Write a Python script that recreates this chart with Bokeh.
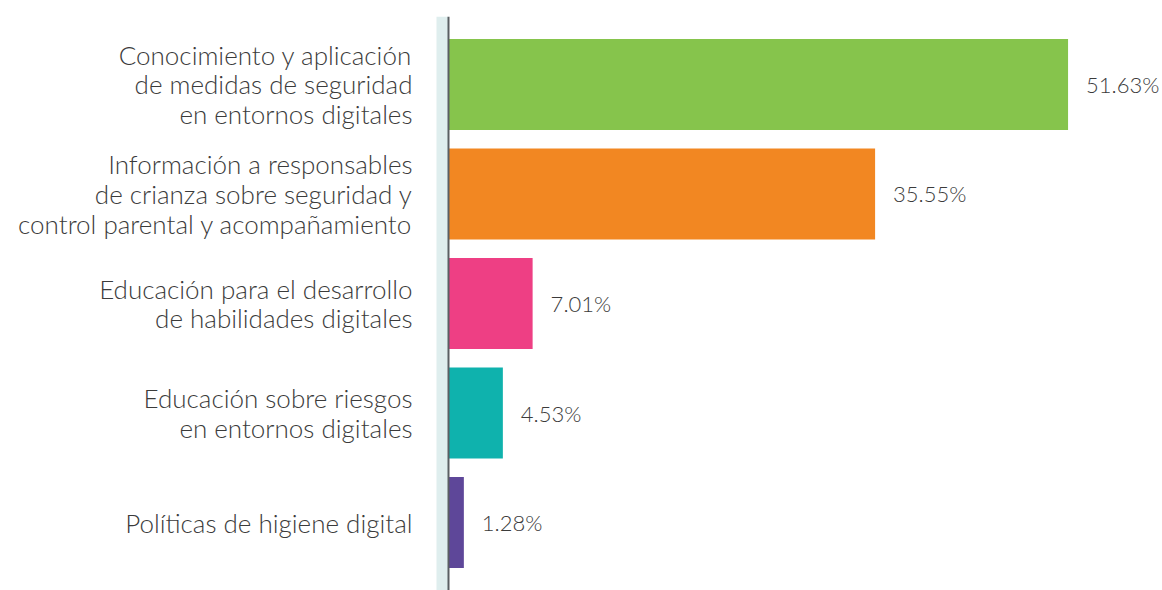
from bokeh.plotting import figure
from bokeh.models import ColumnDataSource, Span, BoxAnnotation, Range1d, FactorRange
from bokeh.core.properties import value
from bokeh.embed import file_html
from bokeh.resources import INLINE

categories = [
    "Conocimiento y aplicación\nde medidas de seguridad\nen entornos digitales",
    "Información a responsables\nde crianza sobre seguridad y\ncontrol parental y acompañamiento",
    "Educación para el desarrollo\nde habilidades digitales",
    "Educación sobre riesgos\nen entornos digitales",
    "Políticas de higiene digital",
]
values = [51.63, 35.55, 7.01, 4.53, 1.28]
labels = ["51.63%", "35.55%", "7.01%", "4.53%", "1.28%"]
colors = ["#86c44c", "#f28722", "#ee3f84", "#0fb2ad", "#5e4799"]

FONT = "Lato Light"
TXT = "#3b3b3b"

src = ColumnDataSource(dict(cat=categories, val=values, lab=labels, col=colors,
                            zero=[0] * len(values)))

p = figure(width=1162, height=590, output_backend="svg", toolbar_location=None,
           y_range=FactorRange(factors=categories[::-1], range_padding=0.12,
                               range_padding_units="absolute"),
           x_range=Range1d(-37.333, 59.5),
           min_border_left=0, min_border_right=0, min_border_top=16, min_border_bottom=0)
p.outline_line_color = None
p.background_fill_color = "white"
p.border_fill_color = "white"
p.axis.visible = False
p.grid.visible = False

p.add_layout(BoxAnnotation(left=-1.0, right=0, fill_color="#dfeeee", fill_alpha=1.0,
                           line_color=None, level="underlay"))

p.hbar(y="cat", left="zero", right="val", height=0.83, fill_color="col",
       line_color=None, source=src)

p.add_layout(Span(location=0, dimension="height", line_color="#5a5f63", line_width=2))

p.text(x="val", y="cat", text="lab", source=src, x_offset=18,
       text_font=value(FONT), text_font_size="22px", text_color=TXT,
       text_align="left", text_baseline="middle")

p.text(x="zero", y="cat", text="cat", source=src, x_offset=-36,
       text_font=value(FONT), text_font_size="26px", text_color=TXT,
       text_align="right", text_baseline="middle", text_line_height=0.93)

open("out.html", "w").write(file_html(p, INLINE))
